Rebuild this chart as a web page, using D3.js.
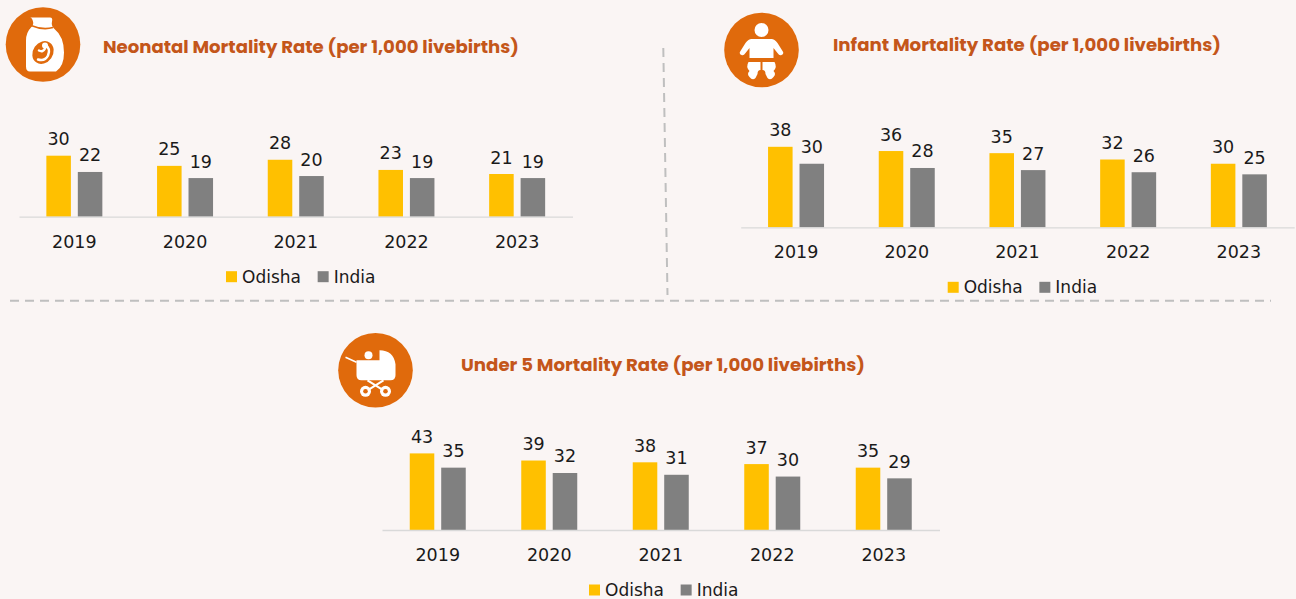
<!DOCTYPE html>
<html>
<head>
<meta charset="utf-8">
<script src="https://cdn.jsdelivr.net/npm/d3@7"></script>
<style>
  html, body { margin: 0; padding: 0; background: #faf5f4; }
  svg { display: block; }
  .val, .tick text, .legend text { font-family: "DejaVu Sans", sans-serif; fill: #1a1a1a; }
  .title { font-family: Poppins, "Open Sans", sans-serif; font-weight: 700; fill: #c4561a; }
</style>
</head>
<body>
<div id="chart"></div>
<script>
// data
const years = ["2019", "2020", "2021", "2022", "2023"];
const seriesNames = ["Odisha", "India"];
const neonatalOdisha = [30, 25, 28, 23, 21];
const neonatalIndia = [22, 19, 20, 19, 19];
const infantOdisha = [38, 36, 35, 32, 30];
const infantIndia = [30, 28, 27, 26, 25];
const under5Odisha = [43, 39, 38, 37, 35];
const under5India = [35, 32, 31, 30, 29];
const titles = [
  "Neonatal Mortality Rate (per 1,000 livebirths)",
  "Infant Mortality Rate (per 1,000 livebirths)",
  "Under 5 Mortality Rate (per 1,000 livebirths)"
];

const colors = { Odisha: "#ffc000", India: "#808080" };

// layout of each panel
const panels = [
  { odisha: neonatalOdisha, india: neonatalIndia, title: titles[0], icon: "vase",
    x0: 19, band: 110.7, base: 216.7, barMax: 61, tx: 103, ty: 53.3, tw: 416, fs: 17, cx: 43, cy: 44.5 },
  { odisha: infantOdisha, india: infantIndia, title: titles[1], icon: "baby",
    x0: 740.7, band: 110.7, base: 227.3, barMax: 80.5, tx: 833, ty: 50.7, tw: 388, fs: 17, cx: 761.5, cy: 50 },
  { odisha: under5Odisha, india: under5India, title: titles[2], icon: "pram",
    x0: 382, band: 111.5, base: 530, barMax: 76.6, tx: 461, ty: 370.7, tw: 404, fs: 18, cx: 375.5, cy: 370.3 }
];

const W = 1296, H = 599;

const svg = d3.select("#chart").append("svg")
  .attr("width", W).attr("height", H);

svg.append("rect").attr("width", W).attr("height", H).attr("fill", "#faf5f4");

// dashed separators
svg.append("line")
  .attr("x1", 10).attr("x2", 1271).attr("y1", 300.7).attr("y2", 300.7)
  .attr("stroke", "#bfbfbf").attr("stroke-width", 2).attr("stroke-dasharray", "9,6");
svg.append("line")
  .attr("x1", 663.3).attr("x2", 667.5).attr("y1", 48).attr("y2", 295)
  .attr("stroke", "#bfbfbf").attr("stroke-width", 2).attr("stroke-dasharray", "9,6");

panels.forEach(function(p) {
  const g = svg.append("g");

  const x0 = d3.scaleBand().domain(years).range([p.x0, p.x0 + p.band * years.length]);
  const x1 = d3.scaleBand().domain(seriesNames).range([0, 56]).paddingInner(0.22);
  const y = d3.scaleLinear()
    .domain([0, d3.max(p.odisha)])
    .range([p.base, p.base - p.barMax]);

  const rows = [];
  years.forEach(function(yr, i) {
    rows.push({ year: yr, name: "Odisha", value: p.odisha[i] });
    rows.push({ year: yr, name: "India", value: p.india[i] });
  });
  const off = (p.band - 56) / 2;

  g.selectAll(".bar")
    .data(rows).enter()
    .append("rect")
      .attr("class", "bar")
      .attr("x", d => x0(d.year) + off + x1(d.name))
      .attr("width", x1.bandwidth())
      .attr("y", d => y(d.value))
      .attr("height", d => p.base - y(d.value))
      .attr("fill", d => colors[d.name]);

  g.selectAll(".val")
    .data(rows).enter()
    .append("text")
      .attr("class", "val")
      .attr("x", d => x0(d.year) + off + x1(d.name) + x1.bandwidth() / 2)
      .attr("y", d => y(d.value) - 10.5)
      .attr("text-anchor", "middle")
      .attr("font-size", "17.5px")
      .text(d => d.value);

  // axis with year labels
  const axis = g.append("g")
    .attr("transform", "translate(0," + p.base + ")")
    .call(d3.axisBottom(x0).tickSize(0).tickSizeOuter(0));
  axis.select(".domain").attr("stroke", "#d9d9d9").attr("stroke-width", 1.3);
  axis.selectAll(".tick text")
    .attr("y", 31).attr("dy", 0)
    .attr("font-size", "17.5px")
    .style("font-family", "'DejaVu Sans', sans-serif")
    .attr("fill", "#1a1a1a");

  // legend
  const leg = g.append("g").attr("class", "legend")
    .attr("transform", "translate(" + (p.x0 + 207) + "," + (p.base + 60) + ")");
  let lx = 0;
  seriesNames.forEach(function(n) {
    leg.append("rect").attr("x", lx).attr("y", -5.5).attr("width", 11).attr("height", 11)
      .attr("fill", colors[n]);
    const t = leg.append("text").attr("x", lx + 16).attr("y", 6)
      .attr("font-size", "17px").text(n);
    lx += 16 + t.node().getComputedTextLength() + 16.7;
  });

  // title
  g.append("text")
    .attr("class", "title")
    .attr("x", p.tx).attr("y", p.ty)
    .attr("font-size", p.fs + "px")
    .attr("textLength", p.tw)
    .attr("lengthAdjust", "spacingAndGlyphs")
    .text(p.title);

  // icon
  const ic = g.append("g").attr("transform", "translate(" + p.cx + "," + p.cy + ")");
  ic.append("circle").attr("r", 37.3).attr("fill", "#e06a0c");
  drawIcon(ic, p.icon);
});

function drawIcon(ic, kind) {
  const wh = "#ffffff", or = "#e06a0c";
  if (kind === "vase") {
    ic.append("path").attr("fill", wh)
      .attr("d", "M-13,-27 L7,-27 Q10,-27 9,-23 Q8,-19 11,-16 Q21,-8 21,8 Q21,22 13,27 L-13,27 Q-17,27 -17,22 L-17,-4 Q-17,-12 -12,-17 Q-9,-20 -10,-23 Q-11,-27 -13,-27 Z");
    ic.append("path").attr("fill", "none").attr("stroke", or).attr("stroke-width", 1.5)
      .attr("d", "M-12,-19 Q0,-14 10,-17");
    ic.append("ellipse").attr("cx", 0).attr("cy", 8).attr("rx", 10).attr("ry", 12)
      .attr("transform", "rotate(35,0,8)").attr("fill", or);
    ic.append("path").attr("fill", "none").attr("stroke", wh).attr("stroke-width", 2.5)
      .attr("stroke-linecap", "round")
      .attr("d", "M2,0 Q8,4 5,11 Q2,17 -5,15 M-4,6 Q0,8 2,4");
    ic.append("circle").attr("cx", 2).attr("cy", 1).attr("r", 3).attr("fill", wh);
  } else if (kind === "baby") {
    ic.append("circle").attr("cx", 0).attr("cy", -20).attr("r", 7).attr("fill", wh);
    ic.append("path").attr("fill", wh)
      .attr("d", "M-10,-11 L10,-11 Q13,-11 16,-7 L21,1 Q23,4 20,5 Q18,6 16,3 L12,-2 L12,8 L-12,8 L-12,-2 L-16,3 Q-18,6 -20,5 Q-23,4 -21,1 L-16,-7 Q-13,-11 -10,-11 Z");
    ic.append("path").attr("fill", wh)
      .attr("d", "M-13,12 L-1,12 L-1,20 Q-4,20 -4,24 L-6,28 Q-9,31 -12,27 Q-15,24 -12,21 Q-16,17 -13,12 Z");
    ic.append("path").attr("fill", wh)
      .attr("d", "M13,12 L1,12 L1,20 Q4,20 4,24 L6,28 Q9,31 12,27 Q15,24 12,21 Q16,17 13,12 Z");
  } else {
    ic.append("circle").attr("cx", -7).attr("cy", -15).attr("r", 4).attr("fill", wh);
    ic.append("path").attr("fill", wh)
      .attr("d", "M-19,-10 L4,-10 L4,-20 Q18,-20 20,-6 L20,5 Q20,10 15,10 L-14,10 Q-19,10 -19,5 Z");
    ic.append("line").attr("x1", -30).attr("y1", -13).attr("x2", -19).attr("y2", -8)
      .attr("stroke", wh).attr("stroke-width", 1.5);
    ic.append("path").attr("fill", "none").attr("stroke", wh).attr("stroke-width", 2)
      .attr("d", "M-8,10 L8,20 M8,10 L-8,20");
    [-10, 10].forEach(function(wx) {
      ic.append("circle").attr("cx", wx).attr("cy", 21).attr("r", 5.5).attr("fill", wh);
      ic.append("circle").attr("cx", wx).attr("cy", 21).attr("r", 2.3).attr("fill", or);
    });
  }
}
</script>
</body>
</html>
